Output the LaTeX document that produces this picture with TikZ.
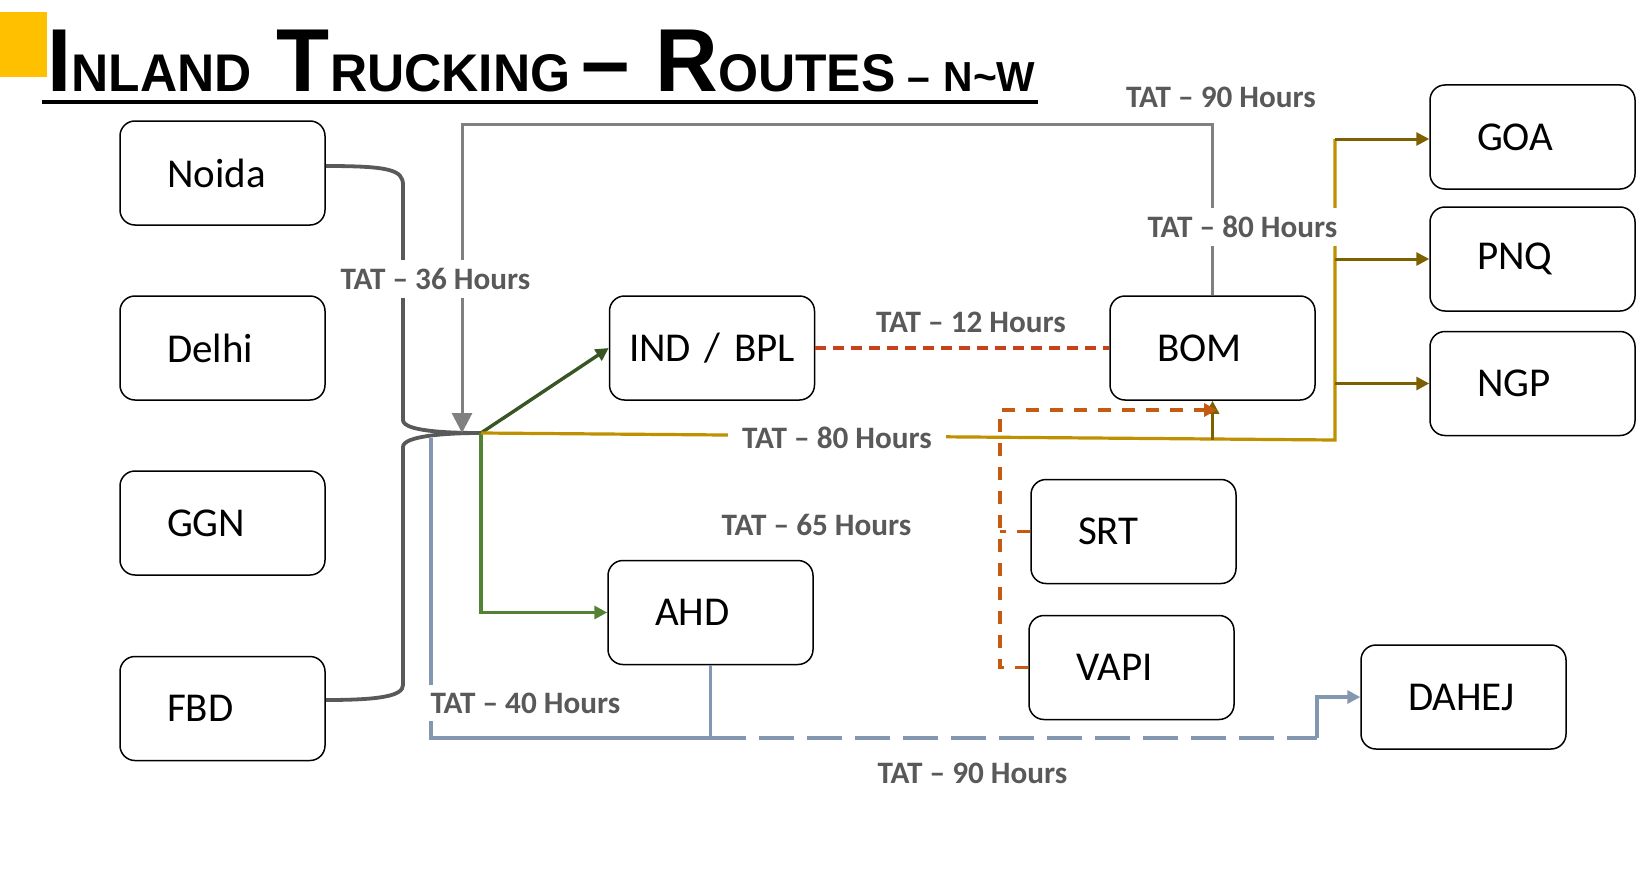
\documentclass[tikz,border=0pt]{standalone}
\usepackage{fontspec}
\setmainfont{Carlito}
\newfontfamily\titlefont{Liberation Sans}[Ligatures=TeX]
\usetikzlibrary{arrows.meta,calc,positioning}
\definecolor{trunkgray}{HTML}{595959}
\definecolor{feedgray}{HTML}{808080}
\definecolor{labelgray}{HTML}{595959}
\definecolor{inddark}{HTML}{375623}
\definecolor{ahdgreen}{HTML}{548235}
\definecolor{goldline}{HTML}{BF9000}
\definecolor{brownline}{HTML}{7F6000}
\definecolor{redline}{HTML}{C9411A}
\definecolor{orangeline}{HTML}{C55A11}
\definecolor{blueline}{HTML}{8497B0}
\definecolor{titleyellow}{HTML}{FFC000}
\tikzstyle{site}=[draw,rounded corners=7.5pt,line width=0.75pt,minimum height=52pt,text width=55.5pt,inner xsep=23.5pt,align=left,font=\fontsize{20.5pt}{24pt}\selectfont]
\tikzstyle{tat}=[fill=white,text=labelgray,inner xsep=7pt,inner ysep=4pt,font=\fontsize{15.6pt}{18pt}\selectfont\bfseries]
\tikzstyle{trunk}=[draw=trunkgray,line width=1.9pt]
\tikzstyle{tip}=[-{Triangle[width=6.5pt,length=6.5pt]}]

\begin{document}
\begin{tikzpicture}[x=0.5pt,y=-0.5pt]
\useasboundingbox (0,0) rectangle (1652,888);

% heading
\fill[titleyellow] (0,12) rectangle (47,77);
\node[anchor=base west,inner sep=0pt] (title) at (47,92) {\resizebox{494pt}{\height}{\titlefont\bfseries
  {\fontsize{44.7pt}{48pt}\selectfont I}{\fontsize{26.5pt}{30pt}\selectfont NLAND}\hspace{13pt}%
  {\fontsize{44.7pt}{48pt}\selectfont T}{\fontsize{26.5pt}{30pt}\selectfont RUCKING}\hspace{6pt}%
  {\fontsize{44.7pt}{48pt}\selectfont –}\hspace{13pt}%
  {\fontsize{44.7pt}{48pt}\selectfont R}{\fontsize{26.5pt}{30pt}\selectfont OUTES}\hspace{6pt}%
  {\fontsize{21pt}{24pt}\selectfont –}\hspace{7pt}%
  {\fontsize{21pt}{24pt}\selectfont N\textasciitilde W}}};
\draw[line width=2pt] (42,102) -- (1038,102);

% stations
\foreach \name/\y in {Noida/173, Delhi/348, GGN/523, FBD/708.5}
    \node[site] (\name) at (222.5,\y) {\name};
\foreach \name/\y in {GOA/137, PNQ/259, NGP/383.5}
    \node[site] (\name) at (1532.5,\y) {\name};
\node[site,text width=92pt,inner xsep=5.25pt,align=center] (IND) at (712,348) {IND / BPL};
\node[site] (AHD) at (710.5,612.5) {AHD};
\node[site] (BOM) at (1212.5,348) {BOM};
\node[site] (SRT) at (1133.5,531.5) {SRT};
\node[site] (VAPI) at (1131.5,667.5) {VAPI};
\node[site] (DAHEJ) at (1463.5,697) {DAHEJ};

\coordinate (hub) at (481,433);
\coordinate (loop) at (462,124);
\coordinate (drop) at (462,433);
\coordinate (riser) at (1335,440);
\coordinate (risetop) at (1335,139);
\coordinate (fork) at (1000,410);
\coordinate (bomtip) at (1217,410);
\coordinate (bluetop) at (431,438);
\coordinate (junc) at (710.5,738);
\coordinate (dbend) at (1317,738);

% north feeders
\draw[blueline,line width=1.7pt] (bluetop) |- (junc);
\draw[trunk] ($(Noida.east)+(0,-7)$) .. controls (390,166) and (403,170) .. (403,185) -- (403,420) .. controls (403,431) and (445,433) .. (hub);
\draw[trunk] (hub) .. controls (445,433) and (403,436) .. (403,447) -- (403,685) .. controls (403,696) and (380,700) .. ($(FBD.east)+(0,-8.5)$);
\draw[feedgray,line width=1.5pt,-{Triangle[width=10pt,length=10pt]}] (BOM.north) |- (loop) -- (drop);

% west routes
\draw[inddark,line width=1.7pt,tip] (hub) -- (IND.west);
\draw[ahdgreen,line width=1.6pt,tip] (hub) |- (AHD.west);
\draw[goldline,line width=1.6pt] (hub) -- (riser) -- (risetop);
\draw[brownline,line width=1.5pt,tip] (risetop) -- (risetop -| GOA.west);
\foreach \name in {PNQ,NGP}
    \draw[brownline,line width=1.5pt,tip] (riser |- \name.west) -- (\name.west);
\draw[brownline,line width=1.5pt,tip] (BOM.south |- riser) -- (BOM.south);
\draw[redline,line width=1.7pt,dash pattern=on 5.5pt off 3.5pt] (IND.east) -- (BOM.west);
\draw[orangeline,line width=1.7pt,dash pattern=on 6.5pt off 5.5pt,tip] (VAPI.west) -| (fork) -- (bomtip);
\draw[orangeline,line width=1.7pt,dash pattern=on 6.5pt off 5.5pt] (SRT.west) -- (SRT.west -| fork);
\draw[blueline,line width=1.7pt] (AHD.south) -- (junc);
\draw[blueline,line width=1.7pt,dash pattern=on 17.5pt off 6.5pt] (junc) -- (dbend);
\draw[blueline,line width=1.7pt,tip] (dbend) |- (DAHEJ.west);

% transit times
\node[tat] (t36) at (435.5,279) {TAT – 36 Hours};
\node[tat] (t90n) at (1221,97) {TAT – 90 Hours};
\node[tat] (t80n) at (1242.5,227) {TAT – 80 Hours};
\node[tat] (t12) at (971,322) {TAT – 12 Hours};
\node[tat] (t80) at (837,438) {TAT – 80 Hours};
\node[tat] (t65) at (816.5,525) {TAT – 65 Hours};
\node[tat] (t40) at (525.5,703) {TAT – 40 Hours};
\node[tat] (t90s) at (972.5,773) {TAT – 90 Hours};

\end{tikzpicture}
\end{document}
